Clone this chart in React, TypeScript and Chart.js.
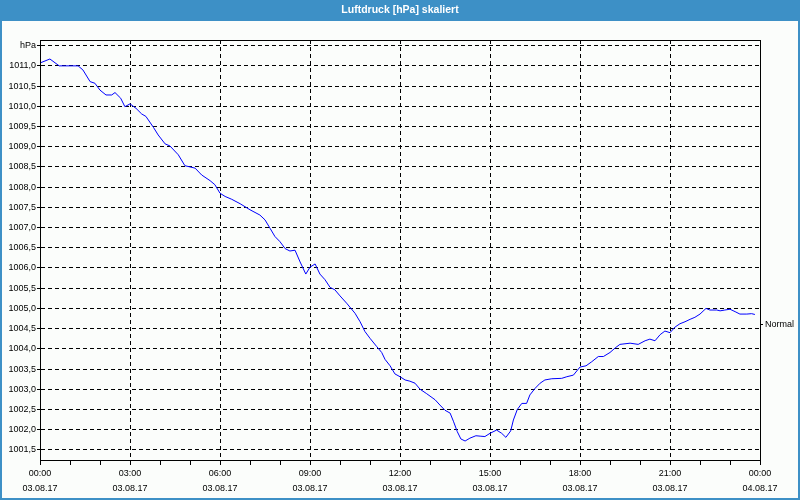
import React, { useEffect, useRef } from 'react';
import { Chart, registerables } from 'chart.js';

Chart.register(...registerables);

const chartTitle = 'Luftdruck [hPa] skaliert';

// hours since 03.08.17 00:00
const hours = [
  0.03, 0.33, 0.64, 1.27, 1.43, 1.67, 1.83, 2.0, 2.2, 2.39, 2.5, 2.69, 2.83, 3.0, 3.2, 3.39, 3.53, 3.78, 3.94,
  4.17, 4.33, 4.61, 4.83, 5.17, 5.39, 5.67, 5.83, 6.0, 6.17, 6.39, 6.67, 7.0, 7.33, 7.5, 7.67, 7.83, 8.0,
  8.17, 8.33, 8.5, 8.67, 8.86, 9.0, 9.17, 9.33, 9.5, 9.67, 9.83, 10.0, 10.22, 10.5, 10.67, 10.83, 11.0,
  11.22, 11.39, 11.5, 11.67, 11.83, 12.0, 12.17, 12.33, 12.5, 12.67, 12.89, 13.17, 13.33, 13.5, 13.67,
  13.78, 13.91, 14.03, 14.17, 14.33, 14.53, 14.67, 14.83, 15.0, 15.22, 15.39, 15.53, 15.69, 15.78, 15.91,
  16.06, 16.22, 16.33, 16.5, 16.67, 16.83, 17.06, 17.39, 17.56, 17.78, 18.0, 18.2, 18.39, 18.61, 18.78,
  19.0, 19.17, 19.33, 19.67, 19.94, 20.17, 20.33, 20.5, 20.67, 20.83, 21.0, 21.17, 21.33, 21.5, 21.67,
  21.83, 22.0, 22.2, 22.33, 22.56, 22.67, 22.83, 23.0, 23.17, 23.33, 23.56, 23.72, 23.83,
];

const pressure = [
  1011.08, 1011.17, 1011.0, 1011.0, 1010.9, 1010.61, 1010.57, 1010.4, 1010.28, 1010.28, 1010.34, 1010.2, 1009.99,
  1010.06, 1009.95, 1009.81, 1009.75, 1009.48, 1009.29, 1009.07, 1009.02, 1008.8, 1008.53, 1008.47, 1008.3,
  1008.16, 1008.06, 1007.85, 1007.77, 1007.7, 1007.59, 1007.44, 1007.31, 1007.19, 1006.98, 1006.78, 1006.65,
  1006.48, 1006.42, 1006.44, 1006.15, 1005.85, 1006.02, 1006.1, 1005.85, 1005.71, 1005.52, 1005.46, 1005.31,
  1005.13, 1004.88, 1004.67, 1004.43, 1004.26, 1004.06, 1003.91, 1003.74, 1003.58, 1003.38, 1003.31, 1003.23,
  1003.2, 1003.15, 1003.0, 1002.89, 1002.74, 1002.61, 1002.48, 1002.41, 1002.21, 1001.95, 1001.77, 1001.72,
  1001.79, 1001.85, 1001.84, 1001.83, 1001.91, 1001.99, 1001.91, 1001.81, 1001.97, 1002.24, 1002.5, 1002.65,
  1002.65, 1002.86, 1003.02, 1003.15, 1003.23, 1003.26, 1003.27, 1003.31, 1003.35, 1003.55, 1003.58, 1003.68,
  1003.81, 1003.81, 1003.91, 1004.02, 1004.11, 1004.14, 1004.11, 1004.2, 1004.24, 1004.2, 1004.35, 1004.44,
  1004.4, 1004.54, 1004.62, 1004.67, 1004.73, 1004.78, 1004.86, 1005.0, 1004.96, 1004.96, 1004.94, 1004.96,
  1004.98, 1004.92, 1004.86, 1004.86, 1004.87, 1004.85,
];

const hourTicks = [0, 3, 6, 9, 12, 15, 18, 21, 24];
const timeLabels = ['00:00', '03:00', '06:00', '09:00', '12:00', '15:00', '18:00', '21:00', '00:00'];
const dateLabels = ['03.08.17', '03.08.17', '03.08.17', '03.08.17', '03.08.17', '03.08.17', '03.08.17', '03.08.17', '04.08.17'];

const yTicks = [
  1001.5, 1002.0, 1002.5, 1003.0, 1003.5, 1004.0, 1004.5, 1005.0, 1005.5, 1006.0, 1006.5,
  1007.0, 1007.5, 1008.0, 1008.5, 1009.0, 1009.5, 1010.0, 1010.5, 1011.0, 1011.5,
];
const yUnitTick = 1011.5;
const yUnitLabel = 'hPa';
const yMin = 1001.25;
const yMax = 1011.64;

const normalValue = 1004.61;
const normalLabel = 'Normal';

const FONT = "'Liberation Sans', Arial, sans-serif";
const BLUE = '#3d90c6';

export default function App() {
  const ref = useRef<HTMLCanvasElement | null>(null);

  useEffect(() => {
    if (!ref.current) return;
    const frame = {
      id: 'frame',
      beforeDraw(chart: any) {
        const { ctx, width, height } = chart;
        ctx.save();
        ctx.fillStyle = '#fbfdfb';
        ctx.fillRect(0, 0, width, height);
        ctx.fillStyle = BLUE;
        ctx.fillRect(0, 0, width, 21);
        ctx.fillRect(0, 0, 2, height);
        ctx.fillRect(width - 2, 0, 2, height);
        ctx.fillRect(0, height - 2, width, 2);
        ctx.restore();
      },
      afterDraw(chart: any) {
        const { ctx, chartArea } = chart;
        ctx.save();
        ctx.strokeStyle = '#000';
        ctx.lineWidth = 1;
        const y = Math.round(chartArea.top - 0.5) + 0.5;
        ctx.beginPath();
        ctx.moveTo(chartArea.left, y);
        ctx.lineTo(chartArea.right + 1, y);
        ctx.stroke();
        ctx.restore();
      },
    };

    const chart = new Chart(ref.current, {
      type: 'line',
      data: {
        datasets: [
          {
            label: 'Luftdruck',
            data: hours.map((h, i) => ({ x: h, y: pressure[i] })),
            borderColor: '#0000ff',
            borderWidth: 1,
            pointRadius: 0,
            tension: 0,
            fill: false,
          },
        ],
      },
      options: {
        responsive: false,
        animation: false,
        devicePixelRatio: 1,
        layout: { padding: 0 },
        plugins: {
          legend: { display: false },
          tooltip: { enabled: false },
          title: {
            display: true,
            text: chartTitle,
            color: '#ffffff',
            font: { family: FONT, size: 10.5, weight: 'bold', lineHeight: 1.2 },
            padding: { top: 4, bottom: 23.4 },
          },
        },
        scales: {
          x: {
            type: 'linear',
            min: 0,
            max: 24,
            afterBuildTicks: (scale: any) => {
              const t: any[] = [];
              for (let h = 0; h <= 24; h++) t.push({ value: h });
              scale.ticks = t;
            },
            afterFit: (scale: any) => {
              scale.height = 40;
            },
            ticks: {
              autoSkip: false,
              maxRotation: 0,
              color: '#000',
              padding: 1,
              font: { family: FONT, size: 9, lineHeight: 15 / 9 },
              callback: (v: any) => {
                const idx = hourTicks.indexOf(Number(v));
                return idx >= 0 ? [timeLabels[idx], dateLabels[idx]] : '';
              },
            },
            grid: {
              color: (c: any) => (c.tick && hourTicks.includes(c.tick.value) ? '#000' : 'rgba(0,0,0,0)'),
              tickColor: '#000',
              tickLength: 5,
              lineWidth: 1,
            },
            border: { display: true, color: '#000', width: 1, dash: [4, 3] },
          },
          y: {
            type: 'linear',
            position: 'left',
            min: yMin,
            max: yMax,
            afterBuildTicks: (scale: any) => {
              scale.ticks = yTicks.map((v) => ({ value: v }));
            },
            afterFit: (scale: any) => {
              scale.width = 40;
            },
            ticks: {
              color: '#000',
              padding: 1,
              font: { family: FONT, size: 9 },
              callback: (v: any) =>
                Math.abs(Number(v) - yUnitTick) < 1e-6 ? yUnitLabel : Number(v).toFixed(1).replace('.', ','),
            },
            grid: { color: '#000', tickColor: '#000', tickLength: 3, lineWidth: 1 },
            border: { display: true, color: '#000', width: 1, dash: [4, 3] },
          },
          y2: {
            type: 'linear',
            position: 'right',
            min: yMin,
            max: yMax,
            afterBuildTicks: (scale: any) => {
              scale.ticks = [{ value: normalValue }];
            },
            afterFit: (scale: any) => {
              scale.width = 40;
            },
            ticks: {
              color: '#000',
              padding: 2,
              font: { family: FONT, size: 9 },
              callback: () => normalLabel,
            },
            grid: { drawOnChartArea: false, tickColor: '#000', tickLength: 3 },
            border: { display: true, color: '#000', width: 1 },
          },
        },
      },
      plugins: [frame],
    } as any);

    return () => chart.destroy();
  }, []);

  return (
    <div style={{ position: 'absolute', left: 0, top: 0, width: 800, height: 500 }}>
      <canvas ref={ref} width={800} height={500} style={{ display: 'block', width: 800, height: 500 }} />
    </div>
  );
}
